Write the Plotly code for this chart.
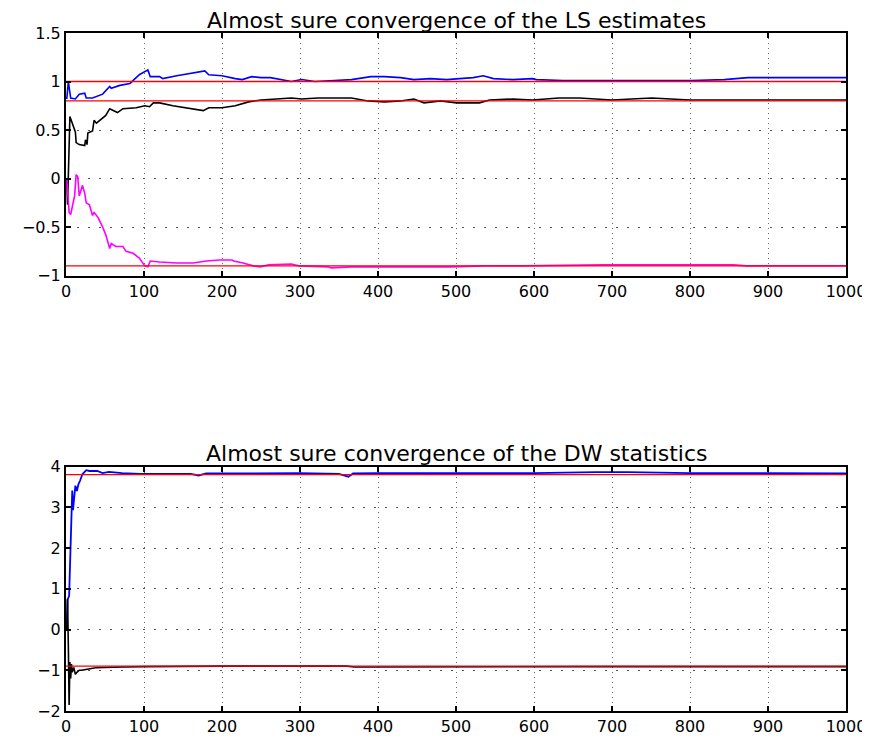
import plotly.graph_objects as go
from plotly.subplots import make_subplots

# ---------------- data ----------------
titles = ["Almost sure convergence of the LS estimates",
          "Almost sure convergence of the DW statistics"]

x_ticks = [0, 100, 200, 300, 400, 500, 600, 700, 800, 900, 1000]
top_yticks = [-1, -0.5, 0, 0.5, 1, 1.5]
top_yticklabels = ["\u22121", "\u22120.5", "0", "0.5", "1", "1.5"]
bot_yticks = [-2, -1, 0, 1, 2, 3, 4]
bot_yticklabels = ["\u22122", "\u22121", "0", "1", "2", "3", "4"]

# top panel: LS estimates
ls_blue_x = [1, 3, 6, 12, 17, 24, 26, 34, 47, 56, 58, 69, 82, 94, 105, 108, 120, 124, 142, 163,
             178, 183, 200, 217, 226, 238, 250, 262, 277, 289, 302, 319, 344, 366, 391, 408, 429,
             446, 467, 488, 522, 535, 548, 573, 598, 603, 637, 679, 721, 751, 802, 844, 874, 908,
             950, 1000]
ls_blue_y = [0.82, 1.0, 0.83, 0.82, 0.87, 0.88, 0.83, 0.83, 0.87, 0.95, 0.93, 0.96, 0.98, 1.07,
             1.12, 1.05, 1.05, 1.03, 1.06, 1.09, 1.11, 1.07, 1.06, 1.03, 1.02, 1.05, 1.04, 1.04,
             1.02, 1.0, 1.02, 1.0, 1.01, 1.02, 1.05, 1.05, 1.04, 1.02, 1.03, 1.02, 1.04, 1.06,
             1.03, 1.02, 1.03, 1.02, 1.01, 1.01, 1.01, 1.01, 1.01, 1.02, 1.04, 1.04, 1.04, 1.04]

ls_black_x = [1, 2, 5, 8, 12, 13, 17, 24, 25, 27, 28, 34, 36, 39, 51, 56, 66, 73, 90, 101, 107,
              112, 120, 137, 155, 176, 183, 200, 217, 234, 250, 277, 289, 302, 323, 344, 366, 387,
              408, 429, 446, 459, 480, 501, 530, 543, 573, 598, 632, 658, 675, 700, 725, 751, 800,
              1000]
ls_black_y = [0.0, -0.27, 0.64, 0.58, 0.48, 0.37, 0.35, 0.34, 0.40, 0.35, 0.47, 0.49, 0.60, 0.57,
              0.65, 0.72, 0.68, 0.72, 0.73, 0.75, 0.74, 0.78, 0.78, 0.75, 0.73, 0.70, 0.73, 0.73,
              0.75, 0.79, 0.81, 0.82, 0.83, 0.82, 0.83, 0.83, 0.83, 0.80, 0.79, 0.80, 0.82, 0.78,
              0.80, 0.78, 0.78, 0.81, 0.82, 0.81, 0.83, 0.83, 0.82, 0.81, 0.82, 0.83, 0.81, 0.81]

ls_mag_x = [1, 4, 6, 9, 11, 13, 15, 17, 19, 21, 24, 26, 30, 34, 36, 41, 47, 51, 56, 58, 64, 73,
            77, 86, 94, 101, 105, 108, 120, 142, 163, 180, 197, 213, 215, 227, 240, 249, 260, 289,
            298, 336, 340, 366, 408, 450, 493, 535, 586, 688, 729, 793, 856, 872, 1000]
ls_mag_y = [0.0, -0.35, -0.37, -0.25, -0.18, 0.04, 0.02, -0.18, -0.12, -0.07, -0.15, -0.25,
            -0.27, -0.38, -0.35, -0.40, -0.50, -0.58, -0.72, -0.67, -0.70, -0.70, -0.75, -0.77,
            -0.82, -0.90, -0.91, -0.85, -0.86, -0.87, -0.87, -0.85, -0.84, -0.84, -0.85, -0.87,
            -0.90, -0.91, -0.89, -0.88, -0.90, -0.91, -0.92, -0.91, -0.91, -0.91, -0.91, -0.90,
            -0.90, -0.89, -0.89, -0.89, -0.89, -0.90, -0.90]

ls_true = [1.0, 0.8, -0.9]

# bottom panel: DW statistics
dw_blue_x = [1, 2, 4, 6, 8, 9, 11, 12, 14, 16, 18, 21, 26, 30, 40, 47, 55, 72, 94, 106, 128, 160,
             170, 180, 220, 300, 350, 362, 368, 400, 500, 600, 680, 720, 800, 900, 1000]
dw_blue_y = [0.0, 0.74, 0.82, 2.26, 3.41, 2.93, 3.4, 3.53, 3.4, 3.57, 3.65, 3.81, 3.91, 3.89,
             3.89, 3.84, 3.87, 3.84, 3.82, 3.82, 3.82, 3.82, 3.78, 3.83, 3.83, 3.84, 3.82, 3.75,
             3.83, 3.84, 3.84, 3.84, 3.86, 3.86, 3.84, 3.83, 3.83]

dw_black_x = [1, 2, 3, 4, 5, 6, 7, 8, 10, 12, 14, 17, 20, 25, 38, 72, 100, 200, 300, 360, 370,
              500, 700, 1000]
dw_black_y = [0.0, 0.75, -0.4, -1.85, -0.8, -1.2, -0.85, -1.05, -0.93, -1.1, -1.05, -1.0, -1.0,
              -0.98, -0.94, -0.92, -0.91, -0.9, -0.9, -0.9, -0.92, -0.91, -0.91, -0.91]

dw_true = [3.8, -0.9]

# ---------------- figure ----------------
FONT = "DejaVu Sans"
fig = make_subplots(rows=2, cols=1)

fig.add_trace(go.Scatter(x=ls_blue_x, y=ls_blue_y, mode="lines",
                         line=dict(color="#0000ff", width=1.6)), row=1, col=1)
fig.add_trace(go.Scatter(x=ls_black_x, y=ls_black_y, mode="lines",
                         line=dict(color="#000000", width=1.6)), row=1, col=1)
fig.add_trace(go.Scatter(x=ls_mag_x, y=ls_mag_y, mode="lines",
                         line=dict(color="#ff00ff", width=1.6)), row=1, col=1)
for v in ls_true:
    fig.add_trace(go.Scatter(x=[x_ticks[0], x_ticks[-1]], y=[v, v], mode="lines",
                             line=dict(color="#ff0000", width=1.3)), row=1, col=1)

fig.add_trace(go.Scatter(x=dw_blue_x, y=dw_blue_y, mode="lines",
                         line=dict(color="#0000ff", width=1.8)), row=2, col=1)
fig.add_trace(go.Scatter(x=dw_black_x, y=dw_black_y, mode="lines",
                         line=dict(color="#000000", width=1.6)), row=2, col=1)
for v in dw_true:
    fig.add_trace(go.Scatter(x=[x_ticks[0], x_ticks[-1]], y=[v, v], mode="lines",
                             line=dict(color="#ff0000", width=1.3)), row=2, col=1)

axis_common = dict(showline=True, mirror="ticks", linecolor="black", linewidth=2,
                   ticks="inside", ticklen=5, tickwidth=1.5, tickcolor="black",
                   showgrid=True, gridwidth=1, zeroline=False,
                   tickfont=dict(family=FONT, size=16, color="black"))

fig.update_xaxes(range=[0, 1000], tickvals=x_ticks, ticktext=[str(t) for t in x_ticks],
                 gridcolor="#666666", griddash="1px,4px", **axis_common)
fig.update_yaxes(range=[-1, 1.5], tickvals=top_yticks, ticktext=top_yticklabels,
                 domain=[0.6422, 1.0], row=1, col=1,
                 gridcolor="#555555", griddash="2px,9px", **axis_common)
fig.update_yaxes(range=[-2, 4], tickvals=bot_yticks, ticktext=bot_yticklabels,
                 domain=[0.0, 0.3606], row=2, col=1,
                 gridcolor="#555555", griddash="2px,9px", **axis_common)

for t, ytop in zip(titles, [1.0, 0.3606]):
    fig.add_annotation(text=t, xref="paper", yref="paper", x=0.5, y=ytop,
                       xanchor="center", yanchor="middle", showarrow=False, yshift=13,
                       font=dict(family=FONT, size=22, color="black"))

fig.update_layout(width=870, height=740, showlegend=False,
                  paper_bgcolor="white", plot_bgcolor="white",
                  margin=dict(l=58, r=23, t=25, b=19))

fig.write_html("out.html")
